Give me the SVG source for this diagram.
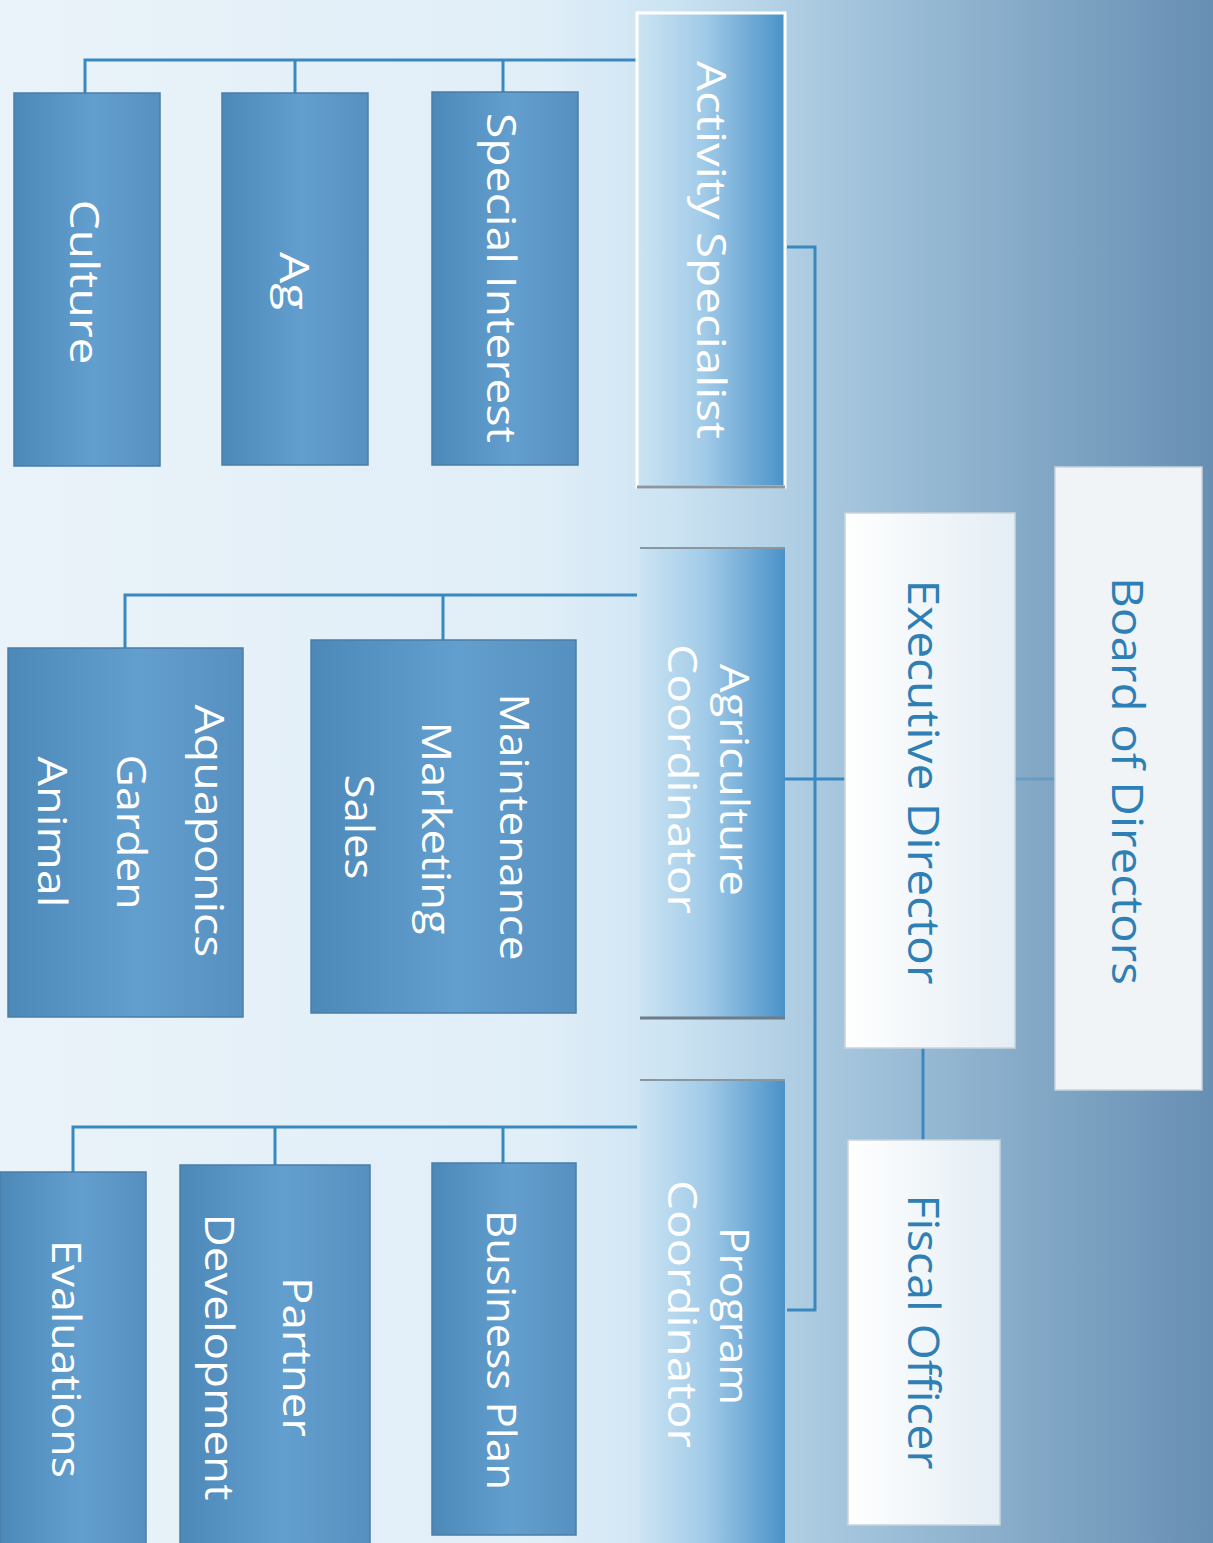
<svg xmlns="http://www.w3.org/2000/svg" width="1213" height="1543" viewBox="0 0 1213 1543">
<defs>
<linearGradient id="bg" x1="0" y1="0" x2="1" y2="0">
<stop offset="0" stop-color="#eaf3f9"/>
<stop offset="0.45" stop-color="#e0eef8"/>
<stop offset="0.55" stop-color="#cde4f3"/>
<stop offset="0.68" stop-color="#a8c8df"/>
<stop offset="0.85" stop-color="#84a9c7"/>
<stop offset="1" stop-color="#678fb3"/>
</linearGradient>
<linearGradient id="coord" x1="0" y1="0" x2="1" y2="0">
<stop offset="0" stop-color="#cce4f3"/>
<stop offset="0.45" stop-color="#a2cbe8"/>
<stop offset="1" stop-color="#4a92c9"/>
</linearGradient>
<linearGradient id="child" x1="0" y1="0" x2="1" y2="0">
<stop offset="0" stop-color="#4c88b8"/>
<stop offset="0.55" stop-color="#639fce"/>
<stop offset="1" stop-color="#5690c0"/>
</linearGradient>
<linearGradient id="white" x1="0" y1="0" x2="1" y2="0">
<stop offset="0" stop-color="#ffffff"/>
<stop offset="1" stop-color="#e3edf4"/>
</linearGradient>
</defs>
<style>
.top{stroke:#c9d3db;stroke-width:1.5}
.coord{fill:url(#coord)}
.child{fill:url(#child);stroke:#4a7ea6;stroke-width:1.5}
.bt{font-family:"Open Sans","Liberation Sans",sans-serif;font-size:44px;font-weight:500;fill:#2d7fb5;text-anchor:middle}
.wt{font-family:"Open Sans","Liberation Sans",sans-serif;font-size:40px;font-weight:500;fill:#ffffff;text-anchor:middle}
.ln{stroke:#3a88c0;stroke-width:3;fill:none}
</style>
<rect width="1213" height="1543" fill="url(#bg)"/>

<g id="connectors">
<line class="ln" x1="1015" y1="779" x2="1055" y2="779" stroke-opacity="0.35"/>
<line class="ln" x1="923" y1="1048" x2="923" y2="1140"/>
<line class="ln" x1="785" y1="779" x2="845" y2="779"/>
<polyline class="ln" points="787,247 815,247 815,1310 787,1310"/>
<polyline class="ln" points="637,60 85,60 85,93"/>
<line class="ln" x1="295" y1="60" x2="295" y2="93"/>
<line class="ln" x1="503" y1="60" x2="503" y2="93"/>
<polyline class="ln" points="637,595 125,595 125,648"/>
<line class="ln" x1="443" y1="595" x2="443" y2="640"/>
<polyline class="ln" points="637,1127 73,1127 73,1172"/>
<line class="ln" x1="275" y1="1127" x2="275" y2="1165"/>
<line class="ln" x1="503" y1="1127" x2="503" y2="1163"/>
</g>

<g id="board">
<rect class="top" x="1055" y="467" width="147" height="623" fill="#f1f4f7"/>
<text class="bt" transform="translate(1112,781) rotate(90)" textLength="408" lengthAdjust="spacingAndGlyphs">Board of Directors</text>
</g>
<g id="executive">
<rect class="top" x="845" y="513" width="170" height="535" fill="url(#white)"/>
<text class="bt" transform="translate(908,782) rotate(90)" textLength="405" lengthAdjust="spacingAndGlyphs">Executive Director</text>
</g>
<g id="fiscal">
<rect class="top" x="848" y="1140" width="152" height="385" fill="url(#white)"/>
<text class="bt" transform="translate(908,1332) rotate(90)" textLength="275" lengthAdjust="spacingAndGlyphs">Fiscal Officer</text>
</g>

<g id="activity">
<rect class="coord" x="637" y="13" width="148" height="474" stroke="#ffffff" stroke-width="3"/>
<line x1="637" y1="487" x2="785" y2="487" stroke="#8a96a0" stroke-width="3"/>
<text class="wt" transform="translate(697,250) rotate(90)" textLength="378" lengthAdjust="spacingAndGlyphs">Activity Specialist</text>
</g>
<g id="agriculture">
<rect class="coord" x="640" y="548" width="145" height="470"/>
<line x1="640" y1="548" x2="785" y2="548" stroke="#8a96a0" stroke-width="2"/>
<line x1="640" y1="1018" x2="785" y2="1018" stroke="#6f7b85" stroke-width="3"/>
<text class="wt" transform="translate(720,780) rotate(90)" textLength="232" lengthAdjust="spacingAndGlyphs">Agriculture</text>
<text class="wt" transform="translate(668,779) rotate(90)" textLength="270" lengthAdjust="spacingAndGlyphs">Coordinator</text>
</g>
<g id="program">
<rect class="coord" x="640" y="1080" width="145" height="470"/>
<line x1="640" y1="1080" x2="785" y2="1080" stroke="#8a96a0" stroke-width="2"/>
<text class="wt" transform="translate(720,1316) rotate(90)" textLength="178" lengthAdjust="spacingAndGlyphs">Program</text>
<text class="wt" transform="translate(668,1314) rotate(90)" textLength="268" lengthAdjust="spacingAndGlyphs">Coordinator</text>
</g>

<g id="culture">
<rect class="child" x="14" y="93" width="146" height="373"/>
<text class="wt" transform="translate(70,282) rotate(90)" textLength="165" lengthAdjust="spacingAndGlyphs">Culture</text>
</g>
<g id="ag">
<rect class="child" x="222" y="93" width="146" height="372"/>
<text class="wt" transform="translate(280,281) rotate(90)" textLength="58" lengthAdjust="spacingAndGlyphs">Ag</text>
</g>
<g id="special-interest">
<rect class="child" x="432" y="92" width="146" height="373"/>
<text class="wt" transform="translate(487,278) rotate(90)" textLength="330" lengthAdjust="spacingAndGlyphs">Special Interest</text>
</g>

<g id="aquaponics-garden-animal">
<rect class="child" x="8" y="648" width="235" height="369"/>
<text class="wt" transform="translate(195,831) rotate(90)" textLength="253" lengthAdjust="spacingAndGlyphs">Aquaponics</text>
<text class="wt" transform="translate(117,832) rotate(90)" textLength="155" lengthAdjust="spacingAndGlyphs">Garden</text>
<text class="wt" transform="translate(38,832) rotate(90)" textLength="151" lengthAdjust="spacingAndGlyphs">Animal</text>
</g>
<g id="maintenance-marketing-sales">
<rect class="child" x="311" y="640" width="265" height="373"/>
<text class="wt" transform="translate(500,827) rotate(90)" textLength="267" lengthAdjust="spacingAndGlyphs">Maintenance</text>
<text class="wt" transform="translate(422,828) rotate(90)" textLength="213" lengthAdjust="spacingAndGlyphs">Marketing</text>
<text class="wt" transform="translate(345,827) rotate(90)" textLength="105" lengthAdjust="spacingAndGlyphs">Sales</text>
</g>

<g id="business-plan">
<rect class="child" x="432" y="1163" width="144" height="372"/>
<text class="wt" transform="translate(487,1350) rotate(90)" textLength="280" lengthAdjust="spacingAndGlyphs">Business Plan</text>
</g>
<g id="partner-development">
<rect class="child" x="180" y="1165" width="190" height="390"/>
<text class="wt" transform="translate(283,1357) rotate(90)" textLength="160" lengthAdjust="spacingAndGlyphs">Partner</text>
<text class="wt" transform="translate(205,1357) rotate(90)" textLength="287" lengthAdjust="spacingAndGlyphs">Development</text>
</g>
<g id="evaluations">
<rect class="child" x="0" y="1172" width="146" height="383"/>
<text class="wt" transform="translate(52,1359) rotate(90)" textLength="238" lengthAdjust="spacingAndGlyphs">Evaluations</text>
</g>
</svg>
